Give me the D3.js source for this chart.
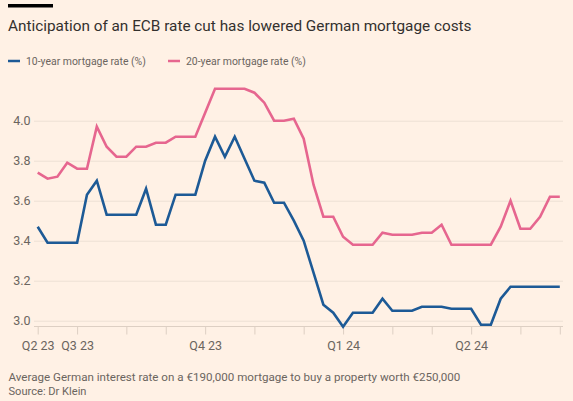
<!DOCTYPE html>
<html>
<head>
<meta charset="utf-8">
<script src="https://cdn.jsdelivr.net/npm/d3@7"></script>
<style>
  html, body { margin: 0; padding: 0; background: #FFF1E5; }
  svg { display: block; font-family: Roboto, "Noto Sans", sans-serif; }
</style>
</head>
<body>
<svg id="chart" width="573" height="401"></svg>
<script>
// ---- data (weekly observations, index 0..53) ----
const titleText = "Anticipation of an ECB rate cut has lowered German mortgage costs";
const seriesNames = ["10-year mortgage rate (%)", "20-year mortgage rate (%)"];
const rate10 = [3.47, 3.39, 3.39, 3.39, 3.39, 3.63, 3.70, 3.53, 3.53, 3.53,
                3.53, 3.66, 3.48, 3.48, 3.63, 3.63, 3.63, 3.80, 3.92, 3.82,
                3.92, 3.81, 3.70, 3.69, 3.59, 3.59, 3.50, 3.40, 3.24, 3.08,
                3.04, 2.97, 3.04, 3.04, 3.04, 3.11, 3.05, 3.05, 3.05, 3.07,
                3.07, 3.07, 3.06, 3.06, 3.06, 2.98, 2.98, 3.11, 3.17, 3.17,
                3.17, 3.17, 3.17, 3.17];
const rate20 = [3.74, 3.71, 3.72, 3.79, 3.76, 3.76, 3.97, 3.87, 3.82, 3.82,
                3.87, 3.87, 3.89, 3.89, 3.92, 3.92, 3.92, 4.04, 4.16, 4.16,
                4.16, 4.16, 4.14, 4.09, 4.00, 4.00, 4.01, 3.91, 3.68, 3.52,
                3.52, 3.42, 3.38, 3.38, 3.38, 3.44, 3.43, 3.43, 3.43, 3.44,
                3.44, 3.48, 3.38, 3.38, 3.38, 3.38, 3.38, 3.47, 3.60, 3.46,
                3.46, 3.52, 3.62, 3.62];
// first observation of each month
const tickIdx    = [0, 4, 9, 13, 17, 22, 27, 31, 36, 40, 44, 49, 53];
const tickLabels = ["Q2 23", "Q3 23", "", "", "Q4 23", "", "", "Q1 24", "", "", "Q2 24", "", ""];
const yTicks = [3.0, 3.2, 3.4, 3.6, 3.8, 4.0];
const footnote = "Average German interest rate on a €190,000 mortgage to buy a property worth €250,000";
const sourceText = "Source: Dr Klein";

// ---- styling ----
const BLUE = "#1d5a96", PINK = "#e6668f", TEXT = "#6b655f", DARK = "#33302e";
const GRID = "#ede0d4", AXIS = "#ddcfc3";

const svg = d3.select("#chart");
const x = d3.scaleLinear().domain([0, rate10.length - 1]).range([37.7, 559.8]);
const y = d3.scaleLinear().domain([2.97, 4.2]).range([326.7, 80.7]);

function fit(sel, w, nChars) {
  const n = sel.node();
  const base = parseFloat(sel.attr("font-size"));
  const len = nChars ? n.getSubStringLength(0, nChars) : n.getComputedTextLength();
  sel.attr("font-size", (base * w / len).toFixed(2));
}

// top bar
svg.append("rect").attr("x", 8).attr("y", 4).attr("width", 45).attr("height", 3.5).attr("fill", "#000");

// title
const t = svg.append("text").attr("x", 8).attr("y", 30.5).attr("fill", DARK)
  .attr("font-size", 16).text(titleText);
fit(t, 464);

// legend
const legX = [8, 168];
const colors = [BLUE, PINK];
seriesNames.forEach((name, i) => {
  svg.append("line").attr("x1", legX[i]).attr("x2", legX[i] + 12)
    .attr("y1", 61).attr("y2", 61).attr("stroke", colors[i]).attr("stroke-width", 2.5);
  const lt = svg.append("text").attr("x", legX[i] + 18).attr("y", 65).attr("fill", TEXT)
    .attr("font-size", 11).text(name);
  fit(lt, 120);
});

// y grid + labels
const yAxis = d3.axisLeft(y).tickValues(yTicks).tickSize(-(563 - 34)).tickFormat(d3.format(".1f"));
const gy = svg.append("g").attr("transform", "translate(34,0)").call(yAxis);
gy.select(".domain").remove();
gy.selectAll(".tick line").attr("stroke", GRID).attr("stroke-width", 1);
gy.selectAll(".tick text").attr("x", -3.5).attr("fill", TEXT)
  .attr("font-size", 12.5).attr("font-family", "Roboto, sans-serif");

// x axis
const xAxis = d3.axisBottom(x).tickValues(tickIdx).tickSize(8).tickPadding(7)
  .tickFormat((d, i) => tickLabels[i]);
const gx = svg.append("g").attr("transform", "translate(0,326.5)").call(xAxis);
gx.select(".domain").remove();
gx.append("line").attr("x1", 34).attr("x2", 563).attr("y1", 0).attr("y2", 0)
  .attr("stroke", AXIS).attr("stroke-width", 1);
gx.selectAll(".tick line").attr("stroke", AXIS);
gx.selectAll(".tick text").attr("fill", TEXT).attr("font-size", 12.5)
  .attr("font-family", "Roboto, sans-serif");

// lines
const line = d3.line().x((d, i) => x(i)).y(d => y(d));
[rate10, rate20].forEach((s, i) => {
  svg.append("path").datum(s).attr("d", line).attr("fill", "none")
    .attr("stroke", colors[i]).attr("stroke-width", 2.6)
    .attr("stroke-linejoin", "miter").attr("stroke-linecap", "butt");
});

// footnotes
const fn = svg.append("text").attr("x", 8.5).attr("y", 381).attr("fill", TEXT)
  .attr("font-size", 11.5).text(footnote);
fit(fn, 191, 36);
const src = svg.append("text").attr("x", 8.5).attr("y", 395).attr("fill", TEXT)
  .attr("font-size", 11.5).text(sourceText);
fit(src, 78);
</script>
</body>
</html>
